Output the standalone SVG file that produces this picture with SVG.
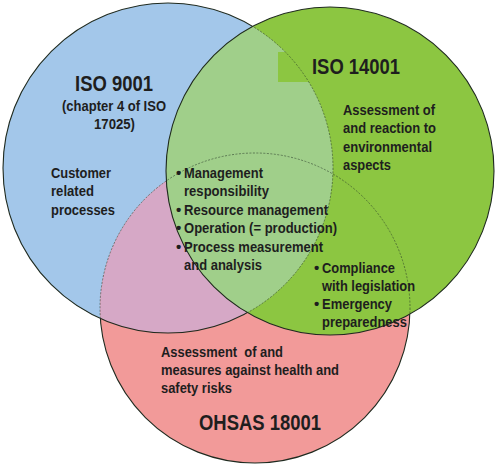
<svg xmlns="http://www.w3.org/2000/svg" width="500" height="466" viewBox="0 0 500 466">
<style>
text{font-family:"Liberation Sans",Arial,sans-serif;font-weight:bold;fill:#1e1e1e;white-space:pre;}
.t{font-size:15px;}
.h{font-size:22px;}
.outer{fill:none;stroke:#1f2a1f;stroke-width:1.1;}
.inner{fill:none;stroke:#2a3a2a;stroke-width:0.8;stroke-dasharray:2 1.5;opacity:0.7;}
</style>
<defs>
<clipPath id="cb"><circle cx="168" cy="168" r="165"/></clipPath>
<clipPath id="cg"><circle cx="330" cy="171" r="164"/></clipPath>
<mask id="outG"><rect width="500" height="466" fill="#fff"/><circle cx="330" cy="171" r="164" fill="#000"/></mask>
<mask id="inG"><circle cx="330" cy="171" r="164" fill="#fff"/></mask>
<mask id="outBG"><rect width="500" height="466" fill="#fff"/><circle cx="330" cy="171" r="164" fill="#000"/><circle cx="168" cy="168" r="165" fill="#000"/></mask>
<mask id="inBG"><circle cx="330" cy="171" r="164" fill="#fff"/><circle cx="168" cy="168" r="165" fill="#fff"/></mask>
</defs>
<rect width="500" height="466" fill="#fff"/>
<g id="iso9001">
<circle cx="168" cy="168" r="165" fill="#a3c7ea"/>
</g>
<g id="ohsas18001">
<circle cx="255" cy="308" r="155" fill="#f29a99"/>
<circle cx="255" cy="308" r="155" fill="#d6a8c6" clip-path="url(#cb)"/>
</g>
<g id="iso14001">
<circle cx="330" cy="171" r="164" fill="#8cc641"/>
<circle cx="330" cy="171" r="164" fill="#a0cf8a" clip-path="url(#cb)"/>
<rect x="278" y="52" width="80" height="30" fill="#8cc641" clip-path="url(#cg)"/>
</g>
<g id="outlines">
<circle cx="168" cy="168" r="165" class="outer" mask="url(#outG)"/>
<circle cx="168" cy="168" r="165" class="inner" mask="url(#inG)"/>
<circle cx="255" cy="308" r="155" class="outer" mask="url(#outBG)"/>
<circle cx="255" cy="308" r="155" class="inner" mask="url(#inBG)"/>
<circle cx="330" cy="171" r="164" class="outer"/>
</g>
<g id="labels">
<text class="h" x="75" y="91" textLength="78" lengthAdjust="spacingAndGlyphs">ISO 9001</text>
<text class="t" x="62" y="111" textLength="104" lengthAdjust="spacingAndGlyphs">(chapter 4 of ISO</text>
<text class="t" x="94" y="129" textLength="41" lengthAdjust="spacingAndGlyphs">17025)</text>
<text class="t" x="51" y="178" textLength="60" lengthAdjust="spacingAndGlyphs">Customer</text>
<text class="t" x="51" y="196" textLength="43" lengthAdjust="spacingAndGlyphs">related</text>
<text class="t" x="51" y="215" textLength="64" lengthAdjust="spacingAndGlyphs">processes</text>

<text class="h" x="312" y="74" textLength="88" lengthAdjust="spacingAndGlyphs">ISO 14001</text>
<text class="t" x="343" y="115" textLength="92" lengthAdjust="spacingAndGlyphs">Assessment of</text>
<text class="t" x="343" y="133" textLength="93" lengthAdjust="spacingAndGlyphs">and reaction to</text>
<text class="t" x="343" y="152" textLength="89" lengthAdjust="spacingAndGlyphs">environmental</text>
<text class="t" x="343" y="170" textLength="48" lengthAdjust="spacingAndGlyphs">aspects</text>

<text class="t" x="176" y="178">•</text>
<text class="t" x="184" y="178" textLength="79" lengthAdjust="spacingAndGlyphs">Management</text>
<text class="t" x="184" y="196" textLength="85" lengthAdjust="spacingAndGlyphs">responsibility</text>
<text class="t" x="176" y="215">•</text>
<text class="t" x="184" y="215" textLength="144" lengthAdjust="spacingAndGlyphs">Resource management</text>
<text class="t" x="176" y="233">•</text>
<text class="t" x="184" y="233" textLength="153" lengthAdjust="spacingAndGlyphs">Operation (= production)</text>
<text class="t" x="176" y="252">•</text>
<text class="t" x="184" y="252" textLength="139" lengthAdjust="spacingAndGlyphs">Process measurement</text>
<text class="t" x="184" y="270" textLength="78" lengthAdjust="spacingAndGlyphs">and analysis</text>

<text class="t" x="314" y="273">•</text>
<text class="t" x="322" y="273" textLength="73" lengthAdjust="spacingAndGlyphs">Compliance</text>
<text class="t" x="322" y="291" textLength="93" lengthAdjust="spacingAndGlyphs">with legislation</text>
<text class="t" x="314" y="309">•</text>
<text class="t" x="322" y="309" textLength="70" lengthAdjust="spacingAndGlyphs">Emergency</text>
<text class="t" x="322" y="327" textLength="85" lengthAdjust="spacingAndGlyphs">preparedness</text>

<text class="t" x="161" y="357" textLength="122" lengthAdjust="spacingAndGlyphs" xml:space="preserve">Assessment  of and</text>
<text class="t" x="161" y="375" textLength="178" lengthAdjust="spacingAndGlyphs">measures against health and</text>
<text class="t" x="161" y="393" textLength="71" lengthAdjust="spacingAndGlyphs">safety risks</text>
<text class="h" x="199" y="430" textLength="122" lengthAdjust="spacingAndGlyphs">OHSAS 18001</text>
</g>
</svg>
